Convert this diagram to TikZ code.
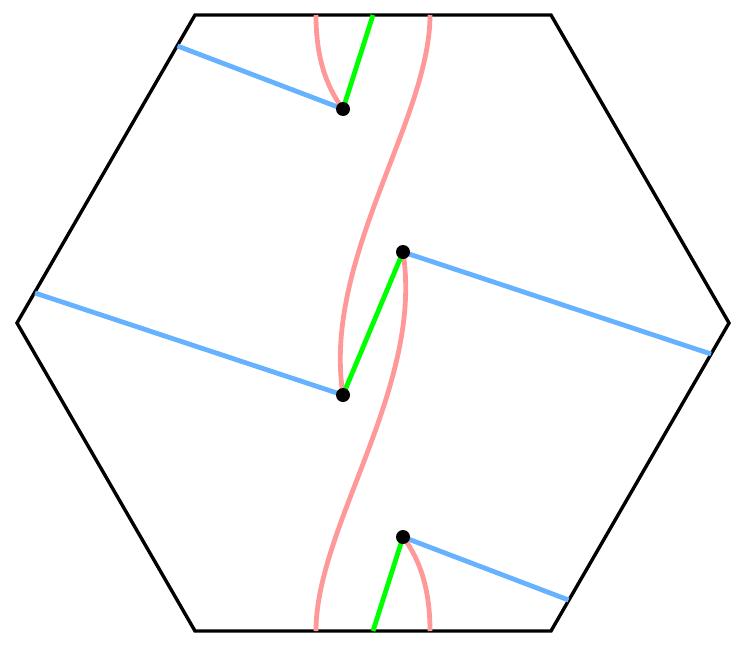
\documentclass[tikz,border=0pt]{standalone}
\definecolor{hexblue}{RGB}{102,178,255}
\definecolor{hexgreen}{RGB}{0,255,0}
\definecolor{hexpink}{RGB}{255,153,153}
\tikzset{
  hexedge/.style={black,line width=3.4pt,line join=miter},
  blueline/.style={hexblue,line width=4.8pt},
  greenline/.style={hexgreen,line width=4.8pt},
  pinkline/.style={hexpink,line width=4.8pt},
  dotnode/.style={circle,fill=black,inner sep=0pt,minimum size=14pt}
}
\begin{document}
\begin{tikzpicture}[x=1pt,y=-1pt]
\useasboundingbox (0,0) rectangle (747,648);
% hexagon corners
\coordinate (h1) at (195,15);
\coordinate (h2) at (551,15);
\coordinate (h3) at (729,323);
\coordinate (h4) at (551,631);
\coordinate (h5) at (195,631);
\coordinate (h6) at (17,323);
\draw[hexedge] (h1) -- (h2) -- (h3) -- (h4) -- (h5) -- (h6) -- cycle;
% vertices
\coordinate (d1) at (343,109);
\coordinate (d2) at (403,252);
\coordinate (d3) at (343,395);
\coordinate (d4) at (403,537);
% boundary endpoints
\coordinate (b1) at (177.5,46);
\coordinate (b2) at (35,293);
\coordinate (b3) at (711,354);
\coordinate (b4) at (568.5,600);
\coordinate (g1) at (373,15);
\coordinate (g2) at (373,631);
\coordinate (p1) at (316,15);
\coordinate (p2) at (430,15);
\coordinate (p3) at (316,631);
\coordinate (p4) at (430,631);
% blue
\draw[blueline] (b1) -- (d1);
\draw[blueline] (b2) -- (d3);
\draw[blueline] (d2) -- (b3);
\draw[blueline] (d4) -- (b4);
% pink
\draw[pinkline] (p1) .. controls (316,55) and (325,85) .. (d1);
\draw[pinkline] (p2) .. controls (430,120) and (322,260) .. (d3);
\draw[pinkline] (p3) .. controls (316,526) and (424,386) .. (d2);
\draw[pinkline] (p4) .. controls (430,591) and (421,561) .. (d4);
% green
\draw[greenline] (g1) -- (d1);
\draw[greenline] (d2) -- (d3);
\draw[greenline] (d4) -- (g2);
% dots
\node[dotnode] (n1) at (d1) {};
\node[dotnode] (n2) at (d2) {};
\node[dotnode] (n3) at (d3) {};
\node[dotnode] (n4) at (d4) {};
\end{tikzpicture}
\end{document}
